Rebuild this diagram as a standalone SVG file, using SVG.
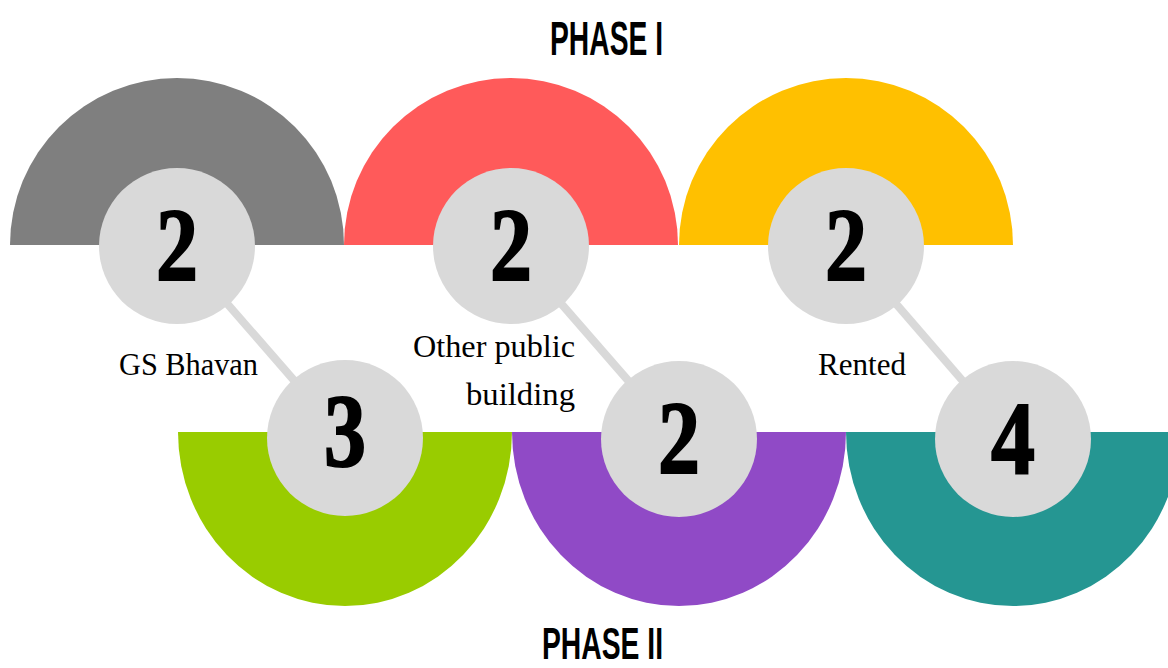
<svg xmlns="http://www.w3.org/2000/svg" width="1168" height="668" viewBox="0 0 1168 668">
<style>
.circ{fill:#d9d9d9}
.num{font-family:"Liberation Serif","DejaVu Serif",serif;font-weight:bold;font-size:104px;fill:#000;stroke:#000;stroke-width:2;text-anchor:middle}
.lbl{font-family:"Liberation Serif","DejaVu Serif",serif;font-size:31px;fill:#000}
.phase{font-family:"Liberation Sans","DejaVu Sans",sans-serif;font-weight:bold;font-size:49px;fill:#000}
.conn{stroke:#d9d9d9;stroke-width:8;fill:none}
</style>
<rect width="1168" height="668" fill="#fff"/>
<text class="phase" x="550" y="55" textLength="113" lengthAdjust="spacingAndGlyphs">PHASE I</text>
<text class="phase" x="542" y="659" style="font-size:45px" textLength="121" lengthAdjust="spacingAndGlyphs">PHASE II</text>
<g id="bands">
<path id="semi-gray" d="M10,245 A167,167 0 0 1 344,245 Z" fill="#7f7f7f"/>
<path id="semi-red" d="M344,245 A167,167 0 0 1 678,245 Z" fill="#ff5a5a"/>
<path id="semi-yellow" d="M679,245 A167,167 0 0 1 1013,245 Z" fill="#ffc000"/>
<path id="semi-green" d="M178,432 A167,174 0 0 0 512,432 Z" fill="#99cc00"/>
<path id="semi-purple" d="M512,432 A167,174 0 0 0 846,432 Z" fill="#904ac6"/>
<path id="semi-teal" d="M846,432 A167,174 0 0 0 1180,432 Z" fill="#259692"/>
</g>
<g id="connectors">
<line class="conn" x1="177" y1="246" x2="345" y2="439"/>
<line class="conn" x1="511" y1="246" x2="679" y2="439"/>
<line class="conn" x1="846" y1="246" x2="1013" y2="439"/>
</g>
<g id="node-gs-bhavan-phase1">
<circle class="circ" cx="177" cy="246" r="78"/>
<text class="num" x="177" y="280" textLength="42" lengthAdjust="spacingAndGlyphs">2</text>
</g>
<g id="node-other-phase1">
<circle class="circ" cx="511" cy="246" r="78"/>
<text class="num" x="511" y="280" textLength="42" lengthAdjust="spacingAndGlyphs">2</text>
</g>
<g id="node-rented-phase1">
<circle class="circ" cx="846" cy="246" r="78"/>
<text class="num" x="846" y="280" textLength="42" lengthAdjust="spacingAndGlyphs">2</text>
</g>
<g id="node-gs-bhavan-phase2">
<circle class="circ" cx="345" cy="438" r="78"/>
<text class="num" x="345" y="466" textLength="42" lengthAdjust="spacingAndGlyphs">3</text>
</g>
<g id="node-other-phase2">
<circle class="circ" cx="679" cy="439" r="78"/>
<text class="num" x="679" y="473" textLength="42" lengthAdjust="spacingAndGlyphs">2</text>
</g>
<g id="node-rented-phase2">
<circle class="circ" cx="1013" cy="439" r="78"/>
<text class="num" x="1013" y="473" textLength="44" lengthAdjust="spacingAndGlyphs">4</text>
</g>
<g id="labels">
<text class="lbl" x="119" y="375" textLength="139" lengthAdjust="spacingAndGlyphs">GS Bhavan</text>
<text class="lbl" x="413" y="357" textLength="162" lengthAdjust="spacingAndGlyphs">Other public</text>
<text class="lbl" x="466" y="405" textLength="109" lengthAdjust="spacingAndGlyphs">building</text>
<text class="lbl" x="818" y="375" textLength="88" lengthAdjust="spacingAndGlyphs">Rented</text>
</g>
</svg>
